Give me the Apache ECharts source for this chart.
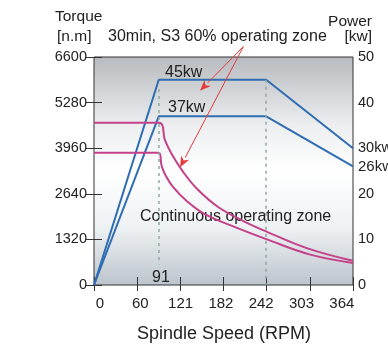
<!DOCTYPE html>
<html>
<head>
<meta charset="utf-8">
<script src="https://cdn.jsdelivr.net/npm/echarts@6/dist/echarts.min.js"></script>
<style>
  html, body { margin: 0; padding: 0; background: #fff; }
  #chart { width: 388px; height: 346px; }
</style>
</head>
<body>
<div id="chart"></div>
<script>
// spindle speed ticks (rpm) shown under the plot
const speedLabels = ["0", "60", "121", "182", "242", "303", "364"];

// torque curves [n.m]
const torqueHighRpm = [0, 91, 100, 110, 125, 145, 175, 210, 243, 300, 364];
const torqueHigh = [4700, 4700, 4180, 3760, 3280, 2780, 2250, 1850, 1540, 1060, 700];
const torqueLowRpm = [0, 91, 95, 100, 111, 131, 155, 200, 243, 304, 364];
const torqueLow = [3830, 3830, 3450, 3200, 2840, 2420, 2060, 1660, 1320, 880, 640];

// power curves [kw]
const powerRpm = [0, 91, 242, 364];
const power45 = [0, 45, 45, 30];
const power37 = [0, 37, 37, 26];

// arrows of the S3 note: [rpm, kw] start and the two targets
const arrowFrom = [210, 52.3];
const arrowTo = [[149, 42.6], [121, 25.8]];

const pairs = (xs, ys) => xs.map((x, i) => [x, ys[i]]);

const chart = echarts.init(document.getElementById("chart"));
const font = "'Liberation Sans', Arial, sans-serif";
const blue = "#2f6db3";
const pink = "#c4418a";
const red = "#e53a3a";

const txt = (pos, text, size) => ({
  type: "text", ...pos,
  style: { text: text, fontSize: size || 14, fontFamily: font, fill: "#222" },
});

const option = {
  animation: false,
  grid: [
    {
      left: 94, top: 57, width: 259, height: 228,
      outerBoundsMode: "none",
      show: true,
      borderColor: "#333",
      borderWidth: 1,
      backgroundColor: {
        type: "linear", x: 0, y: 0, x2: 0, y2: 1,
        colorStops: [
          { offset: 0, color: "#b7babe" },
          { offset: 0.3, color: "#eceef0" },
          { offset: 0.5, color: "#ffffff" },
          { offset: 0.75, color: "#eef1f3" },
          { offset: 1, color: "#bcc4cc" },
        ],
      },
    },
    // only used to place the speed labels
    { left: 79.85, top: 286, width: 282.1, height: 1, outerBoundsMode: "none" },
  ],
  xAxis: [
    {
      type: "value", gridIndex: 0, position: "bottom",
      min: 0, max: 364, interval: 364 / 6,
      axisLine: { show: false },
      axisTick: { show: true, inside: true, length: 8, lineStyle: { color: "#333" } },
      axisLabel: { show: false },
      splitLine: { show: false },
    },
    {
      type: "value", gridIndex: 0, position: "top",
      min: 0, max: 364, interval: 364 / 6,
      axisLine: { show: false },
      axisTick: { show: true, inside: true, length: 6, lineStyle: { color: "#333" } },
      axisLabel: { show: false },
      splitLine: { show: false },
    },
    {
      type: "category", gridIndex: 1, data: speedLabels,
      axisLine: { show: false },
      axisTick: { show: false },
      axisLabel: { margin: 9, fontSize: 15, color: "#222", fontFamily: font },
    },
  ],
  yAxis: [
    {
      type: "value", gridIndex: 0, position: "left",
      min: 0, max: 6600, interval: 1320,
      axisLine: { show: false },
      axisTick: { show: true, inside: true, length: 8, lineStyle: { color: "#333" } },
      axisLabel: {
        margin: 7, fontSize: 14.5, color: "#222", fontFamily: font,
        formatter: (v) => `${v}`,
      },
      splitLine: { show: false },
    },
    {
      type: "value", gridIndex: 0, position: "right",
      min: 0, max: 50, interval: 10,
      axisLine: { show: false },
      axisTick: { show: true, inside: true, length: 8, lineStyle: { color: "#333" } },
      axisLabel: {
        margin: 5, fontSize: 14.5, color: "#222", fontFamily: font,
        formatter: (v) => (v === 30 ? "30kw" : `${v}`),
      },
      splitLine: { show: false },
    },
    { type: "value", gridIndex: 1, show: false },
  ],
  series: [
    {
      name: "45kw", type: "line", xAxisIndex: 0, yAxisIndex: 1,
      data: pairs(powerRpm, power45),
      showSymbol: false,
      lineStyle: { color: blue, width: 2 },
      z: 3,
    },
    {
      name: "37kw", type: "line", xAxisIndex: 0, yAxisIndex: 1,
      data: pairs(powerRpm, power37),
      showSymbol: false,
      lineStyle: { color: blue, width: 2 },
      z: 3,
    },
    {
      name: "torque S3", type: "line", xAxisIndex: 0, yAxisIndex: 0,
      data: pairs(torqueHighRpm, torqueHigh),
      showSymbol: false, smooth: 0.4,
      lineStyle: { color: pink, width: 2 },
      z: 3,
    },
    {
      name: "torque cont", type: "line", xAxisIndex: 0, yAxisIndex: 0,
      data: pairs(torqueLowRpm, torqueLow),
      showSymbol: false, smooth: 0.4,
      lineStyle: { color: pink, width: 2 },
      z: 3,
    },
    {
      // dotted guides at base and max speed
      name: "guides", type: "line", xAxisIndex: 0, yAxisIndex: 1,
      data: [], z: 2,
      markLine: {
        silent: true, symbol: ["none", "none"], label: { show: false },
        lineStyle: { color: "#90aa9c", type: [3, 4], width: 1.5 },
        data: [
          [{ coord: [91, 43] }, { coord: [91, 4.5] }],
          [{ coord: [242, 45] }, { coord: [242, 0] }],
        ],
      },
    },
  ],
  graphic: [
    txt({ left: 55, top: 9 }, "Torque", 15.5),
    txt({ left: 57, top: 29 }, "[n.m]", 15.5),
    txt({ right: 16, top: 14 }, "Power", 15.5),
    txt({ right: 16, top: 29 }, "[kw]", 15.5),
    txt({ left: 108, top: 29 }, "30min, S3 60% operating zone", 16),
    txt({ left: 165, top: 65 }, "45kw", 16),
    txt({ left: 168, top: 100 }, "37kw", 16),
    txt({ left: 152, top: 270 }, "91", 16),
    txt({ left: 140, top: 209 }, "Continuous operating zone", 16),
    txt({ left: 358, top: 159 }, "26kw", 15),
    txt({ left: 137, top: 325 }, "Spindle Speed (RPM)", 18),
  ],
};

chart.setOption(option);

// red arrows, placed through the power scale
const toPx = (p) => chart.convertToPixel({ xAxisIndex: 0, yAxisIndex: 1 }, p);
const p0 = toPx(arrowFrom);
const arrows = [];
arrowTo.forEach((t) => {
  const p1 = toPx(t);
  const dx = p1[0] - p0[0];
  const dy = p1[1] - p0[1];
  const len = Math.hypot(dx, dy);
  const ux = dx / len;
  const uy = dy / len;
  const head = 11;
  const half = 4.5;
  const bx = p1[0] - ux * head;
  const by = p1[1] - uy * head;
  arrows.push({
    type: "line", z: 10,
    shape: { x1: p0[0], y1: p0[1], x2: bx, y2: by },
    style: { stroke: red, lineWidth: 1 },
  });
  arrows.push({
    type: "polygon", z: 10,
    shape: {
      points: [
        [p1[0], p1[1]],
        [bx - uy * half, by + ux * half],
        [p1[0] - ux * head * 0.7, p1[1] - uy * head * 0.7],
        [bx + uy * half, by - ux * half],
      ],
    },
    style: { fill: red },
  });
});
chart.setOption({ graphic: option.graphic.concat(arrows) });
</script>
</body>
</html>
